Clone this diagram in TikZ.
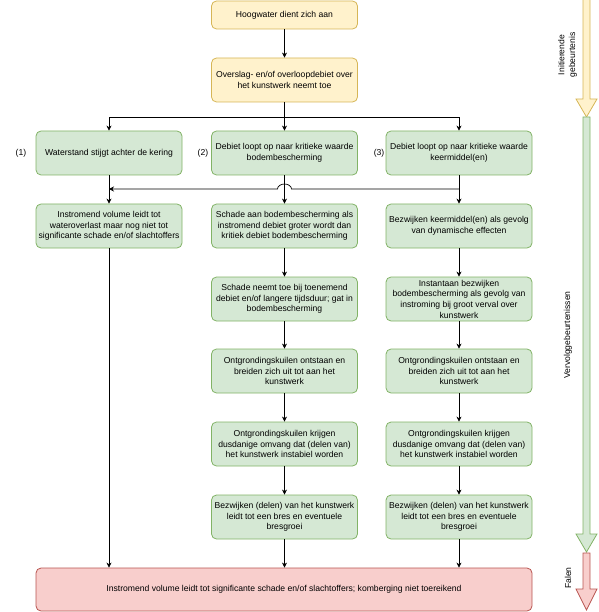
\documentclass[tikz,border=0pt]{standalone}
\usepackage{fontspec}
\setmainfont{Liberation Sans}
\usetikzlibrary{arrows.meta}
\definecolor{yfill}{HTML}{FFF2CC}
\definecolor{ydraw}{HTML}{D6B656}
\definecolor{gfill}{HTML}{D5E8D4}
\definecolor{gdraw}{HTML}{82B366}
\definecolor{rfill}{HTML}{F8CECC}
\definecolor{rdraw}{HTML}{B85450}
\begin{document}
\begin{tikzpicture}[x=1pt,y=-1pt,font=\fontsize{8.6}{10.7}\selectfont,
  box/.style={rounded corners=5pt, line width=0.8pt, minimum width=146pt, minimum height=44pt, align=center, inner sep=1pt},
  ybox/.style={box, fill=yfill, draw=ydraw},
  gbox/.style={box, fill=gfill, draw=gdraw},
  rbox/.style={box, fill=rfill, draw=rdraw},
  arr/.style={-{Stealth[length=5pt,width=5pt]}, line width=0.7pt},
  bigarrow/.style={line width=0.8pt, line join=miter}]
\useasboundingbox (0,0) rectangle (598,612);
% top
\node[ybox, minimum height=28pt] (hw) at (284.5,15) {Hoogwater dient zich aan};
\node[ybox] (ov) at (284.5,80) {Overslag- en/of overloopdebiet over\\het kunstwerk neemt toe};
% row 2
\node[gbox] (c1a) at (109,153) {Waterstand stijgt achter de kering};
\node[gbox] (c2a) at (284.5,153) {Debiet loopt op naar kritieke waarde\\bodembescherming};
\node[gbox] (c3a) at (459,153) {Debiet loopt op naar kritieke waarde\\keermiddel(en)};
\node (n1) at (21,153) {(1)};
\node (n2) at (203,153) {(2)};
\node (n3) at (379,153) {(3)};
% row 3
\node[gbox] (c1b) at (109,226) {Instromend volume leidt tot\\wateroverlast maar nog niet tot\\significante schade en/of slachtoffers};
\node[gbox] (c2b) at (284.5,226) {Schade aan bodembescherming als\\instromend debiet groter wordt dan\\kritiek debiet bodembescherming};
\node[gbox] (c3b) at (459,226) {Bezwijken keermiddel(en) als gevolg\\van dynamische effecten};
% row 4
\node[gbox] (c2c) at (284.5,299) {Schade neemt toe bij toenemend\\debiet en/of langere tijdsduur; gat in\\bodembescherming};
\node[gbox] (c3c) at (459,299) {Instantaan bezwijken\\bodembescherming als gevolg van\\instroming bij groot verval over\\kunstwerk};
% row 5
\node[gbox] (c2d) at (284.5,371) {Ontgrondingskuilen ontstaan en\\breiden zich uit tot aan het\\kunstwerk};
\node[gbox] (c3d) at (459,371) {Ontgrondingskuilen ontstaan en\\breiden zich uit tot aan het\\kunstwerk};
% row 6
\node[gbox] (c2e) at (284.5,444) {Ontgrondingskuilen krijgen\\dusdanige omvang dat (delen van)\\het kunstwerk instabiel worden};
\node[gbox] (c3e) at (459,444) {Ontgrondingskuilen krijgen\\dusdanige omvang dat (delen van)\\het kunstwerk instabiel worden};
% row 7
\node[gbox] (c2f) at (284.5,517) {Bezwijken (delen) van het kunstwerk\\leidt tot een bres en eventuele\\bresgroei};
\node[gbox] (c3f) at (459,517) {Bezwijken (delen) van het kunstwerk\\leidt tot een bres en eventuele\\bresgroei};
% bottom
\node[rbox, minimum width=496pt, minimum height=43pt] (fail) at (284,589.5) {Instromend volume leidt tot significante schade en/of slachtoffers; komberging niet toereikend};
% connectors
\coordinate (sy) at (0,117);
\coordinate (my) at (0,189);
\draw[arr] (hw) -- (ov);
\draw[arr] (ov) -- (c2a);
\draw[arr] (ov.south |- sy) -| (c1a.north);
\draw[arr] (ov.south |- sy) -| (c3a.north);
\draw[arr] (c1a) -- (c1b);
\draw[arr] (c2a) -- (c2b);
\draw[arr] (c3a) -- (c3b);
\draw[arr] (c3a.south |- my) -- ([xshift=7pt]c2a.south |- my) arc[start angle=0, end angle=180, x radius=7pt, y radius=5pt] -- (c1a.south |- my);
\draw[arr] (c2b) -- (c2c);
\draw[arr] (c3b) -- (c3c);
\draw[arr] (c2c) -- (c2d);
\draw[arr] (c3c) -- (c3d);
\draw[arr] (c2d) -- (c2e);
\draw[arr] (c3d) -- (c3e);
\draw[arr] (c2e) -- (c2f);
\draw[arr] (c3e) -- (c3f);
\draw[arr] (c1b) -- (c1b |- fail.north);
\draw[arr] (c2f) -- (c2f |- fail.north);
\draw[arr] (c3f) -- (c3f |- fail.north);
% phase arrows
\filldraw[bigarrow, fill=yfill, draw=ydraw] (583,-2) -- (590,-2) -- (590,99) -- (597,99) -- (586.5,117) -- (576,99) -- (583,99) -- cycle;
\filldraw[bigarrow, fill=gfill, draw=gdraw] (583,117) -- (590,117) -- (590,534) -- (597,534) -- (586.5,552) -- (576,534) -- (583,534) -- cycle;
\filldraw[bigarrow, fill=rfill, draw=rdraw] (583,553) -- (590,553) -- (590,589) -- (597,589) -- (586.5,610) -- (576,589) -- (583,589) -- cycle;
\node[rotate=90, align=center] (lab1) at (567.5,55) {Initierende\\gebeurtenis};
\node[rotate=90] (lab2) at (568,335) {Vervolggebeurtenissen};
\node[rotate=90] (lab3) at (568,578) {Falen};
\end{tikzpicture}
\end{document}
